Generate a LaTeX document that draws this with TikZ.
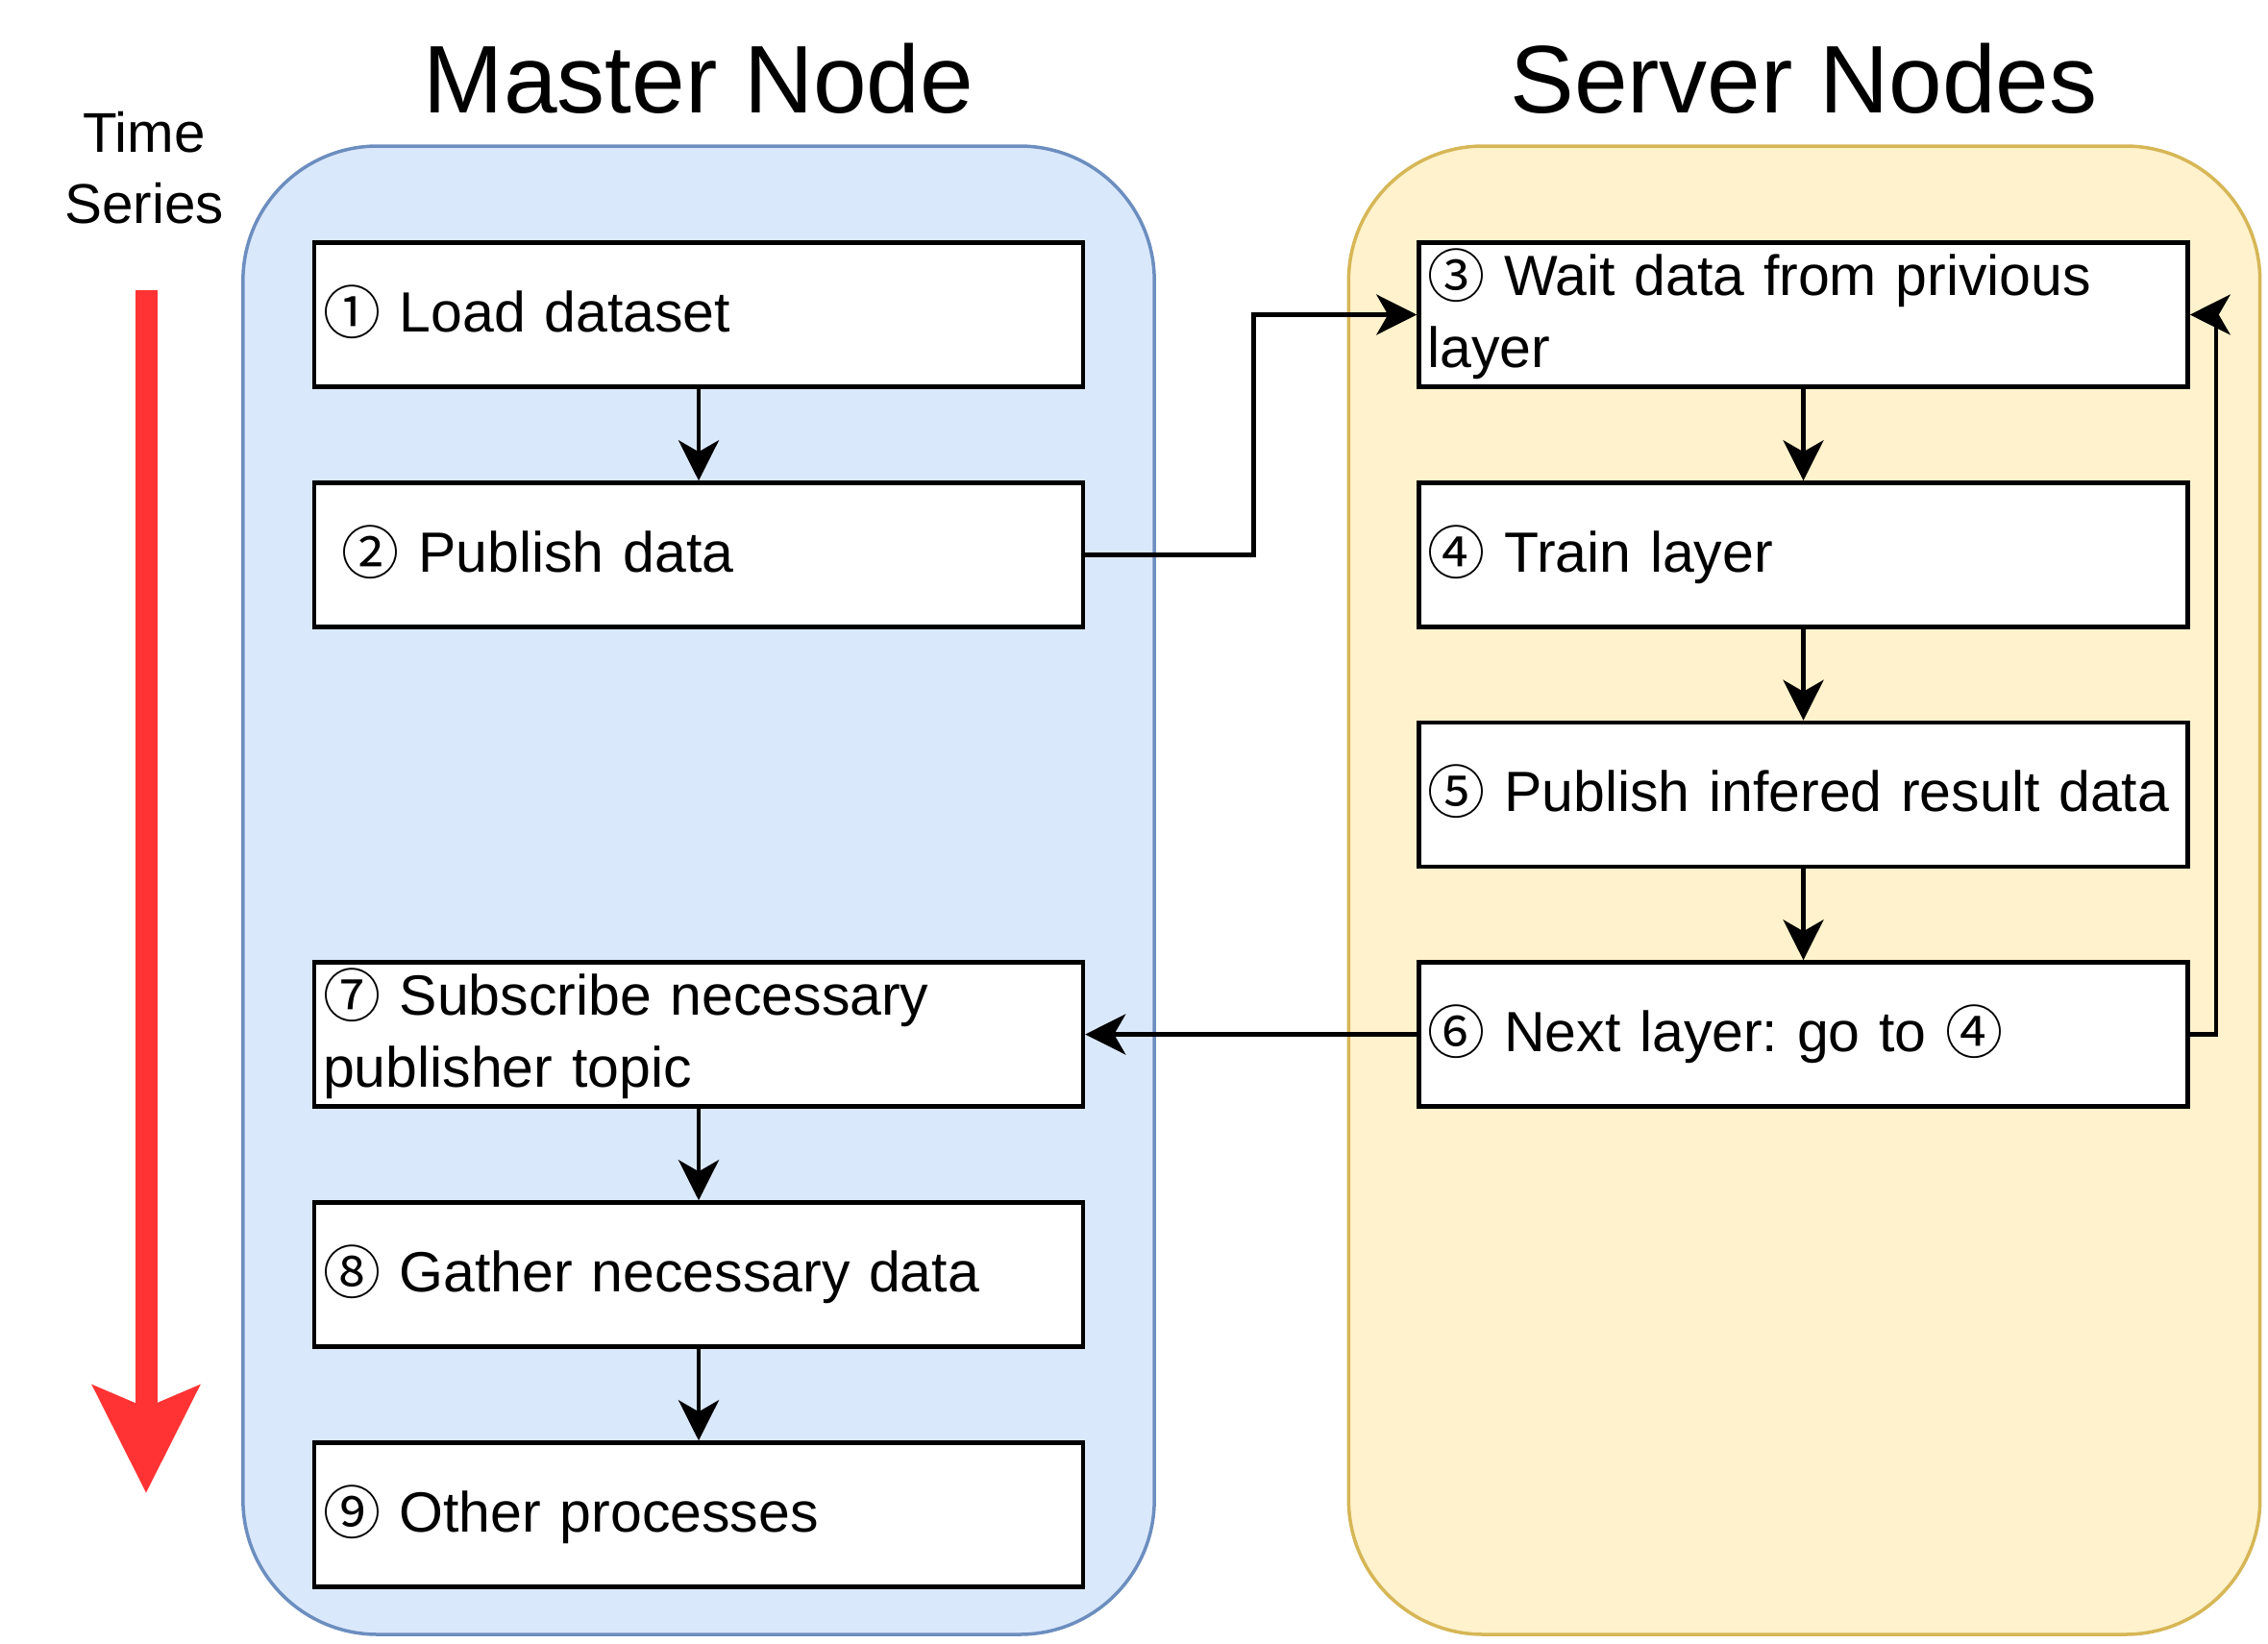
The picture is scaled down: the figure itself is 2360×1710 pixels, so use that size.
\documentclass[tikz,border=0pt]{standalone}
\usepackage{fontspec}
\setmainfont{Liberation Sans}
\newfontfamily\cfont{Noto Sans CJK SC}
\usetikzlibrary{arrows.meta}
\definecolor{mfill}{HTML}{DAE8FC}
\definecolor{mdraw}{HTML}{6C8EBF}
\definecolor{sfill}{HTML}{FFF2CC}
\definecolor{sdraw}{HTML}{D6B656}
\definecolor{tred}{HTML}{FF3333}
\frenchspacing
\newcommand\bxstrut{\rule[-6pt]{0pt}{22.5pt}}
\newcommand\bxline[1]{\mbox{\bxstrut#1}}
\newcommand\cn[1]{\raisebox{-0.6pt}{\fontsize{18}{22.5}\cfont #1}}
\begin{document}
\begin{tikzpicture}[x=0.3pt,y=-0.3pt,
  container/.style={rounded corners=42pt, line width=1.05pt, inner sep=0pt, minimum width=284.5pt, minimum height=464.7pt},
  stepbox/.style={draw=black, fill=white, line width=1.35pt, minimum width=240pt, minimum height=45pt,
    text width=234.6pt, inner xsep=2.7pt, inner ysep=0pt, align=left, font=\fontsize{17.7}{22.5}\selectfont},
  conn/.style={line width=1.35pt, -{Stealth[length=12.6pt,width=12.6pt,inset=3.6pt]}},
  title/.style={font=\fontsize{30}{36}\selectfont, anchor=base, inner sep=0pt},
  timelabel/.style={font=\fontsize{17.5}{22.2}\selectfont, align=center, inner sep=0pt},
  timearrow/.style={line width=6.9pt, draw=tred, -{Stealth[length=33.3pt,width=32.7pt,inset=6.6pt]}},
]
\useasboundingbox (0,0) rectangle (2360,1710);

% containers
\node[container, draw=mdraw, fill=mfill] (master) at (727,926.5) {};
\node[container, draw=sdraw, fill=sfill] (server) at (1877.5,926.5) {};

% titles
\node[title] (tmaster) at (727,117) {Master Node};
\node[title] (tserver) at (1877,117) {Server Nodes};

% time series
\node[timelabel] (tlabel) at (150,175) {Time\\Series};
\coordinate (ts0) at (152,302);
\coordinate (ts1) at (152,1554);
\draw[timearrow] (ts0) -- (ts1);

% master boxes
\node[stepbox] (b1) at (727,327.5) {\bxline{\cn{①} Load dataset}};
\node[stepbox] (b2) at (727,577.5) {\bxline{\ \cn{②} Publish data}};
\node[stepbox] (b7) at (727,1076.5) {\bxline{\cn{⑦} Subscribe necessary}\\\bxline{publisher topic}};
\node[stepbox] (b8) at (727,1326.5) {\bxline{\cn{⑧} Gather necessary data}};
\node[stepbox] (b9) at (727,1576.5) {\bxline{\cn{⑨} Other processes}};

% server boxes
\node[stepbox] (b3) at (1876.5,327.5) {\bxline{\cn{③} Wait data from privious}\\\bxline{layer}};
\node[stepbox] (b4) at (1876.5,577.5) {\bxline{\cn{④} Train layer}};
\node[stepbox] (b5) at (1876.5,827) {\bxline{\cn{⑤} Publish infered result data}};
\node[stepbox] (b6) at (1876.5,1076.5) {\bxline{\cn{⑥} Next layer: go to \cn{④}}};

% connectors
\draw[conn] (b1.south) -- (b2.north);
\draw[conn] (b7.south) -- (b8.north);
\draw[conn] (b8.south) -- (b9.north);
\draw[conn] (b3.south) -- (b4.north);
\draw[conn] (b4.south) -- (b5.north);
\draw[conn] (b5.south) -- (b6.north);
\draw[conn] (b2.east) -- ++(175,0) |- (b3.west);
\draw[conn] (b6.west) -- (b7.east);
\draw[conn] (b6.east) -- ++(27,0) |- (b3.east);
\end{tikzpicture}
\end{document}
